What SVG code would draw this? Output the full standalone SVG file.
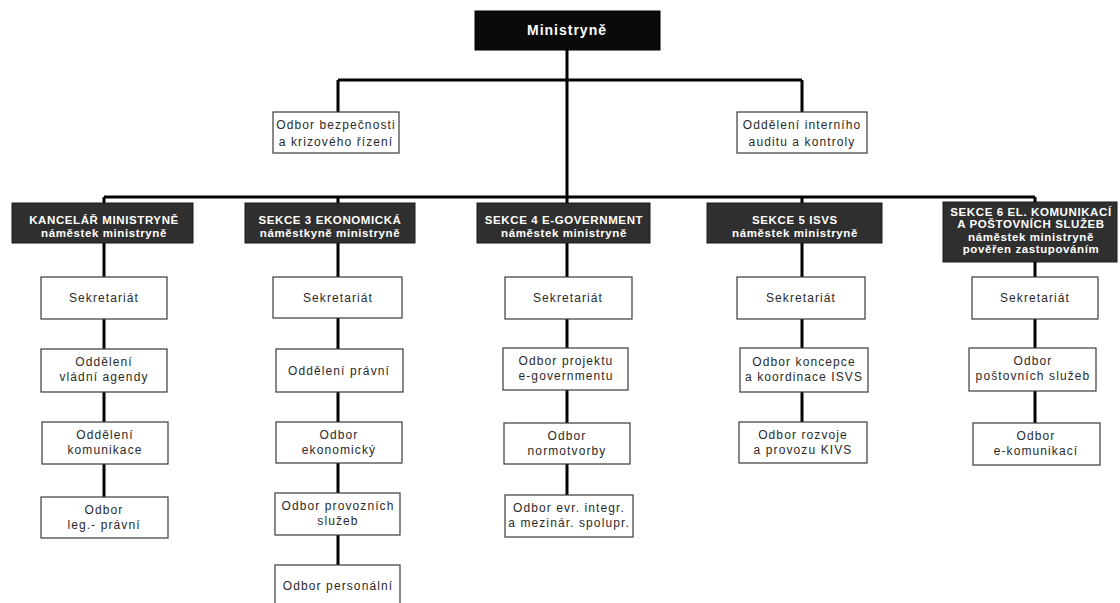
<svg xmlns="http://www.w3.org/2000/svg" width="1120" height="603" viewBox="0 0 1120 603">
<style>
.bg{fill:#ffffff}
.top{fill:#0a0a0a;stroke:#000;stroke-width:1}
.sec{fill:#2f2f2f;stroke:#1a1a1a;stroke-width:1}
.box{fill:#ffffff;stroke:#3a3a3a;stroke-width:1.2}
.conn{stroke:#000;stroke-width:3;fill:none}
.tt{font-family:"Liberation Sans",Arial,sans-serif;font-weight:bold;font-size:14px;fill:#fff;text-anchor:middle;letter-spacing:1px}
.st{font-family:"Liberation Sans",Arial,sans-serif;font-weight:bold;font-size:11.5px;fill:#fff;text-anchor:middle;letter-spacing:0.6px}
.ct{font-family:"Liberation Sans",Arial,sans-serif;font-size:12px;fill:#2a2a2a;text-anchor:middle;letter-spacing:1.1px}
</style>
<rect class="bg" x="0" y="0" width="1120" height="603"/>
<g id="connectors">
<path class="conn" d="M567 50 V197 M338 80 H802 M338 80 V112 M802 80 V112"/>
<path class="conn" d="M104 197 H1035 M104 197 V203 M338 197 V203 M567 197 V203 M802 197 V203 M1035 197 V203"/>
<path class="conn" d="M104 243 V497"/>
<path class="conn" d="M338 243 V565"/>
<path class="conn" d="M567 243 V495"/>
<path class="conn" d="M802 243 V422"/>
<path class="conn" d="M1035 262 V423"/>
</g>
<g id="ministryne"><rect class="top" x="475" y="11" width="185" height="39"/><text class="tt" x="567" y="35">Ministryně</text></g>
<g id="bezpecnost"><rect class="box" x="273" y="112" width="126" height="41"/><text class="ct" x="336" y="129">Odbor bezpečnosti</text><text class="ct" x="336" y="146">a krizového řízení</text></g>
<g id="audit"><rect class="box" x="737" y="112" width="130" height="41"/><text class="ct" x="802" y="129">Oddělení interního</text><text class="ct" x="802" y="146">auditu a kontroly</text></g>

<g id="sec1"><rect class="sec" x="12" y="203" width="181" height="40"/><text class="st" x="104" y="224">KANCELÁŘ MINISTRYNĚ</text><text class="st" x="104" y="237">náměstek ministryně</text></g>
<g id="sec3"><rect class="sec" x="245" y="203" width="170" height="40"/><text class="st" x="330" y="224">SEKCE 3 EKONOMICKÁ</text><text class="st" x="330" y="237">náměstkyně ministryně</text></g>
<g id="sec4"><rect class="sec" x="477" y="203" width="173" height="40"/><text class="st" x="564" y="224">SEKCE 4 E-GOVERNMENT</text><text class="st" x="564" y="237">náměstek ministryně</text></g>
<g id="sec5"><rect class="sec" x="707" y="203" width="175" height="40"/><text class="st" x="795" y="224">SEKCE 5 ISVS</text><text class="st" x="795" y="237">náměstek ministryně</text></g>
<g id="sec6"><rect class="sec" x="943" y="202" width="174" height="60"/><text class="st" x="1031" y="216">SEKCE 6 EL. KOMUNIKACÍ</text><text class="st" x="1031" y="228">A POŠTOVNÍCH SLUŽEB</text><text class="st" x="1031" y="241">náměstek ministryně</text><text class="st" x="1031" y="253">pověřen zastupováním</text></g>

<g id="c1-sekretariat"><rect class="box" x="41" y="277" width="126" height="42"/><text class="ct" x="104" y="302">Sekretariát</text></g>
<g id="c1-vladni"><rect class="box" x="41" y="349" width="126" height="43"/><text class="ct" x="104" y="366">Oddělení</text><text class="ct" x="104" y="381">vládní agendy</text></g>
<g id="c1-komunikace"><rect class="box" x="42" y="422" width="126" height="42"/><text class="ct" x="105" y="439">Oddělení</text><text class="ct" x="105" y="454">komunikace</text></g>
<g id="c1-leg"><rect class="box" x="41" y="497" width="127" height="41"/><text class="ct" x="104" y="514">Odbor</text><text class="ct" x="104" y="529">leg.- právní</text></g>

<g id="c2-sekretariat"><rect class="box" x="273" y="277" width="129" height="41"/><text class="ct" x="338" y="302">Sekretariát</text></g>
<g id="c2-pravni"><rect class="box" x="276" y="349" width="127" height="43"/><text class="ct" x="339" y="375">Oddělení právní</text></g>
<g id="c2-ekonomicky"><rect class="box" x="276" y="422" width="126" height="41"/><text class="ct" x="339" y="439">Odbor</text><text class="ct" x="339" y="454">ekonomický</text></g>
<g id="c2-provozni"><rect class="box" x="275" y="493" width="125" height="42"/><text class="ct" x="338" y="510">Odbor provozních</text><text class="ct" x="338" y="525">služeb</text></g>
<g id="c2-personalni"><rect class="box" x="275" y="565" width="125" height="42"/><text class="ct" x="338" y="590">Odbor personální</text></g>

<g id="c3-sekretariat"><rect class="box" x="505" y="277" width="127" height="42"/><text class="ct" x="568" y="302">Sekretariát</text></g>
<g id="c3-projekt"><rect class="box" x="503" y="348" width="125" height="42"/><text class="ct" x="566" y="365">Odbor projektu</text><text class="ct" x="566" y="380">e-governmentu</text></g>
<g id="c3-normotvorba"><rect class="box" x="504" y="423" width="126" height="41"/><text class="ct" x="567" y="440">Odbor</text><text class="ct" x="567" y="455">normotvorby</text></g>
<g id="c3-evr"><rect class="box" x="505" y="495" width="128" height="42"/><text class="ct" x="569" y="512">Odbor evr. integr.</text><text class="ct" x="569" y="527">a mezinár. spolupr.</text></g>

<g id="c4-sekretariat"><rect class="box" x="737" y="277" width="128" height="42"/><text class="ct" x="801" y="302">Sekretariát</text></g>
<g id="c4-koncepce"><rect class="box" x="740" y="348" width="128" height="44"/><text class="ct" x="804" y="366">Odbor koncepce</text><text class="ct" x="804" y="381">a koordinace ISVS</text></g>
<g id="c4-rozvoj"><rect class="box" x="739" y="422" width="128" height="41"/><text class="ct" x="803" y="439">Odbor rozvoje</text><text class="ct" x="803" y="454">a provozu KIVS</text></g>

<g id="c5-sekretariat"><rect class="box" x="972" y="277" width="126" height="42"/><text class="ct" x="1035" y="302">Sekretariát</text></g>
<g id="c5-postovni"><rect class="box" x="969" y="348" width="127" height="43"/><text class="ct" x="1033" y="365">Odbor</text><text class="ct" x="1033" y="380">poštovních služeb</text></g>
<g id="c5-ekomunikace"><rect class="box" x="973" y="423" width="127" height="42"/><text class="ct" x="1036" y="440">Odbor</text><text class="ct" x="1036" y="455">e-komunikací</text></g>
</svg>
